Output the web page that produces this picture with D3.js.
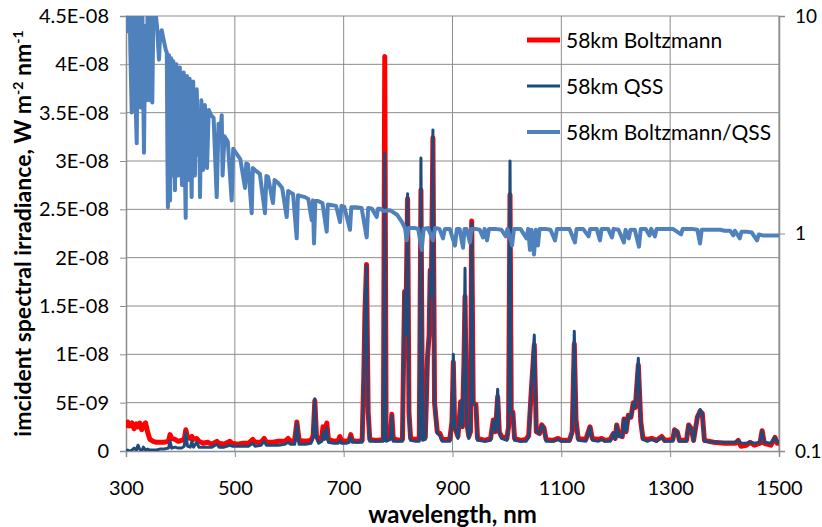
<!DOCTYPE html>
<html>
<head>
<meta charset="utf-8">
<script src="https://cdn.jsdelivr.net/npm/d3@7"></script>
<style>
  body { margin: 0; background: #fff; }
  text { font-family: Lato, "Open Sans", sans-serif; fill: #000; }
</style>
</head>
<body>
<div id="chart"></div>
<script>
// irradiance values are in units of 1e-9 W m-2 nm-1, pairs are [wavelength nm, value]
const boltzmannPts = [
  [300,2.4],[303,3.0],[307,2.6],[311,2.9],[315,2.3],[319,2.8],[322,2.5],[325,2.9],[329,2.2],[332,2.7],
  [336,2.9],[340,1.9],[344,1.2],[350,1.0],[356,0.9],[362,0.9],[370,0.9],[378,1.0],[381,1.7],[384,1.3],
  [390,1.2],[396,1.0],[402,1.1],[407,1.2],[410,2.2],[413,1.4],[418,1.3],[421,1.5],[424,1.2],[430,1.3],
  [434,1.0],[442,0.8],[450,0.9],[458,0.7],[467,1.0],[471,0.8],[480,0.7],[491,1.0],[495,0.8],[505,0.7],
  [515,0.8],[525,0.8],[533,1.2],[537,0.9],[548,0.9],[554,1.3],[558,0.9],[570,0.9],[580,1.0],[592,1.0],
  [598,1.3],[602,1.0],[610,1.1],[614,3.0],[618,1.1],[630,1.0],[640,1.1],[644,1.6],[647,5.2],[650,1.6],
  [654,1.1],[660,1.5],[662,2.5],[665,1.6],[669,2.9],[672,1.2],[682,1.0],[690,1.1],[693,1.5],[696,1.1],
  [705,1.0],[710,1.1],[713,1.7],[716,1.1],[725,1.0],[734,1.1],[737,7.7],[739,14.1],[742,19.3],[745,4.0],
  [748,1.2],[760,1.1],[773,1.2],[775.5,40.8],[778,1.2],[786,1.5],[788.5,3.8],[791,1.3],[800,1.1],[808,1.2],
  [810,9.0],[812,16.5],[814,12.0],[817.5,26.1],[820,4.0],[823,1.3],[832,1.2],[839,1.3],[842,27.0],[845,1.4],
  [850,1.4],[852,5.3],[854,9.6],[857,12.0],[859,18.7],[861,16.0],[864,32.4],[867,5.0],[872,2.0],[877,1.8],
  [881,1.2],[895,1.2],[899,3.0],[901.5,9.2],[904,2.5],[910,1.5],[915,5.1],[918,2.5],[921,9.0],[923,16.0],
  [926,3.0],[930,1.5],[933,2.0],[935.3,23.8],[938,5.0],[943,4.8],[946,1.3],[960,1.1],[970,1.3],[975,3.2],
  [979,2.0],[983,5.6],[986,2.0],[990,1.5],[1000,1.3],[1003,2.5],[1005.7,26.5],[1008,4.0],[1011,4.0],[1014,1.3],
  [1025,1.1],[1035,1.2],[1040,1.6],[1044,5.5],[1050.3,11.0],[1054,2.0],[1060,1.8],[1064,2.7],[1068,2.4],[1072,1.2],
  [1085,1.1],[1094,1.3],[1100,1.1],[1115,1.1],[1120,2.0],[1123.8,11.1],[1127,3.2],[1131,1.3],[1145,1.2],[1152.7,2.5],
  [1157,1.3],[1168,1.2],[1174,1.3],[1180,1.1],[1190,1.2],[1195.5,1.8],[1199,1.3],[1201.7,2.7],[1206,1.6],[1212,1.5],
  [1215.2,3.3],[1219,2.0],[1223,3.7],[1228,3.5],[1232.3,5.0],[1236,4.5],[1241.5,8.9],[1246,3.0],[1250,1.3],[1258,1.2],
  [1266,1.3],[1275,1.1],[1284.5,1.5],[1290,1.1],[1305,1.2],[1308,2.2],[1313,2.0],[1317,1.1],[1330,1.1],[1334,2.7],
  [1339,2.3],[1343,1.1],[1350,3.5],[1355,4.1],[1359,3.9],[1363,1.1],[1380,0.9],[1400,0.8],[1420,0.8],[1425,1.1],
  [1430,0.5],[1440,0.6],[1447,0.9],[1455,0.6],[1465,0.8],[1469,2.1],[1473,0.8],[1485,0.6],[1492.7,1.4],[1497,0.8],
  [1500,1.0]
];

const qssPts = [
  [300,0.0],[303,0.1],[307,0.0],[311,0.1],[315,0.3],[319,0.1],[322,0.6],[325,0.2],[329,0.0],[332,0.4],
  [336,0.1],[340,0.2],[344,0.1],[350,0.1],[356,0.1],[362,0.2],[370,0.2],[378,0.3],[381,1.0],[384,0.3],
  [390,0.4],[396,0.3],[402,0.3],[407,0.5],[410,1.9],[413,0.5],[418,0.4],[421,1.0],[424,0.4],[430,0.9],
  [434,0.4],[442,0.4],[450,0.4],[458,0.4],[467,0.7],[471,0.4],[480,0.4],[491,0.6],[495,0.5],[505,0.5],
  [515,0.5],[525,0.5],[533,0.8],[537,0.5],[548,0.6],[554,1.0],[558,0.6],[570,0.6],[580,0.6],[592,0.7],
  [598,0.9],[602,0.7],[610,0.7],[614,2.9],[618,0.7],[630,0.7],[640,0.8],[644,1.4],[647,5.4],[650,1.4],
  [654,0.8],[660,1.0],[662,2.0],[665,1.2],[669,2.4],[672,0.9],[682,0.8],[690,0.8],[693,1.1],[696,0.8],
  [705,0.8],[710,0.9],[713,1.5],[716,0.9],[725,0.9],[734,0.9],[737,7.7],[739,14.1],[742,19.2],[745,4.0],
  [748,1.0],[760,1.0],[773,1.0],[775.5,30.8],[778,1.0],[786,1.2],[788.5,3.7],[791,1.0],[800,1.0],[808,1.0],
  [810,9.0],[812,16.5],[814,12.0],[817.5,26.6],[820,4.0],[823,1.1],[832,1.0],[839,1.0],[842,30.3],[845,1.1],
  [850,1.2],[852,5.3],[854,9.6],[857,12.0],[859,18.7],[861,16.0],[864,33.2],[867,5.0],[872,1.8],[877,1.6],
  [881,1.0],[895,1.0],[899,3.0],[901.5,10.0],[904,2.5],[910,1.3],[915,5.1],[918,2.5],[921,9.0],[923,18.9],
  [926,3.0],[930,1.3],[933,2.0],[935.3,23.6],[938,5.0],[943,4.6],[946,1.1],[960,1.0],[970,1.1],[975,3.1],
  [979,2.0],[983,6.4],[986,2.0],[990,1.3],[1000,1.1],[1003,2.5],[1005.7,30.0],[1008,4.0],[1011,3.9],[1014,1.1],
  [1025,1.0],[1035,1.0],[1040,1.4],[1044,5.5],[1050.3,12.0],[1054,2.0],[1060,1.8],[1064,2.7],[1068,2.4],[1072,1.0],
  [1085,1.0],[1094,1.2],[1100,1.0],[1115,1.0],[1120,2.0],[1123.8,12.4],[1127,3.2],[1131,1.1],[1145,1.0],[1152.7,2.5],
  [1157,1.1],[1168,1.0],[1174,1.2],[1180,1.0],[1190,1.0],[1195.5,1.8],[1199,1.2],[1201.7,2.7],[1206,1.5],[1212,1.5],
  [1215.2,3.3],[1219,2.0],[1223,3.7],[1228,3.5],[1232.3,5.0],[1236,4.5],[1241.5,9.6],[1246,3.0],[1250,1.2],[1258,1.0],
  [1266,1.2],[1275,1.0],[1284.5,1.4],[1290,1.0],[1305,1.0],[1308,2.2],[1313,2.0],[1317,1.0],[1330,1.0],[1334,2.7],
  [1339,2.3],[1343,1.0],[1350,3.5],[1355,4.3],[1359,3.9],[1363,1.0],[1380,0.9],[1400,0.9],[1420,0.9],[1425,1.1],
  [1430,0.8],[1440,0.8],[1447,0.9],[1455,0.8],[1465,0.9],[1469,2.1],[1473,0.9],[1485,0.8],[1492.7,1.4],[1497,0.9],
  [1500,1.0]
];

// Boltzmann/QSS ratio (right axis, log)
const ratioPts = [
  [300,14],[303,8.5],[306,14],[308,6.9],[310.5,3.6],[313,14],[316.5,5.0],[319.7,2.6],[322,14],[325,6.0],
  [327,3.8],[329.5,14],[333,2.35],[335.5,9.0],[338,4.1],[340,14],[342,12],[344,4.1],[346,14],[348.3,4.0],
  [351,14],[353,11],[357,9.0],[360.6,6.3],[363,8.4],[365.6,8.6],[369,7.8],[373,7.0],[375,6.8],[376,2.5],[377,1.32],
  [378,4.0],[379,6.6],[380,3.0],[381,1.42],[382,4.5],[383,6.4],[384.5,1.85],[386,5.0],[387,6.2],[388.5,2.6],[390,1.58],
  [391.5,4.2],[392.5,6.0],[394,2.9],[395.6,1.85],[397.5,4.8],[399,5.8],[401,2.6],[402.9,1.67],[404.5,4.6],
  [406,5.5],[408,2.2],[409.7,1.18],[411,4.0],[412,5.3],[413,2.4],[413.9,1.76],[415.5,4.1],[417,5.15],[419,2.2],[420.7,1.47],
  [422,3.8],[423.5,5.0],[425,2.6],[426.8,1.85],[428.5,3.9],[430,4.6],[433,2.3],[434.5,3.6],
  [436,1.47],[438.5,4.1],[441.5,1.96],[445,3.9],[448.9,2.0],[452,3.7],[456.2,3.5],[461,3.4],[466.7,1.47],[470,3.2],
  [474,3.0],[475.9,3.5],[477.5,1.85],[481,2.8],[487,2.65],[494.2,1.42],[497,2.45],[502.1,2.35],[510,2.2],[518.7,1.62],
  [521,2.1],[524.2,2.08],[531,1.24],[533,2.0],[537,1.96],[546,1.88],[555.4,1.24],[558,1.84],[561,1.82],[570.1,1.38],
  [573,1.76],[579.3,1.71],[587,1.62],[595.3,1.19],[598,1.57],[601.4,1.55],[607,1.52],[613.7,0.95],[616,1.50],[620,1.49],
  [629,1.47],[635,1.44],[641.3,1.15],[643.5,1.42],[645.5,0.90],[648,1.41],[653,1.41],[661,1.38],[668.8,1.02],[671,1.36],
  [679,1.35],[686,1.34],[693.3,1.13],[696,1.34],[701,1.33],[711.6,1.04],[714,1.32],[723,1.32],[733,1.31],[742.3,0.96],
  [745,1.31],[752,1.30],[760.7,1.19],[763,1.30],[767,1.30],[774,1.27],[785,1.28],[798,1.22],[807,1.13],[812.7,1.06],
  [815.8,0.93],[819,1.06],[830,1.06],[837,1.05],[843.4,0.84],[847,1.05],[855,1.06],[864.2,0.93],[868,1.06],[876,1.05],
  [882.5,0.95],[886,1.05],[895,1.05],[904.6,0.88],[908,1.05],[913,1.05],[919.3,0.86],[922,1.05],[926,1.05],[932,0.91],
  [935,1.05],[942,1.05],[950,1.04],[956,0.96],[959,1.05],[963.4,0.93],[967,1.05],[978,1.05],[990,1.04],[998,0.97],
  [1001,1.05],[1009.4,0.88],[1013,1.05],[1025,1.05],[1036,0.95],[1039,1.05],[1042.4,0.84],[1045,1.04],[1049.8,0.80],[1053,1.04],
  [1057,0.88],[1060,1.05],[1070,1.05],[1080,1.04],[1088.4,0.93],[1092,1.05],[1105,1.05],[1115,1.05],[1125,0.91],[1128,1.05],
  [1140,1.05],[1150,0.97],[1153,1.05],[1165,1.05],[1171,0.93],[1174,1.05],[1186,1.05],[1193,0.96],[1196,1.05],[1205,1.04],
  [1215,0.91],[1218,1.04],[1224,0.95],[1227,1.04],[1235,1.04],[1242.7,0.87],[1246,1.05],[1255,1.05],[1262,0.98],[1265,1.05],
  [1272,0.97],[1275,1.05],[1290,1.05],[1305,1.05],[1320,0.99],[1323,1.05],[1340,1.05],[1350,1.04],[1354.8,0.90],[1358,1.04],
  [1364,1.04],[1380,1.04],[1392,1.04],[1400,1.03],[1410,1.03],[1416,0.98],[1419,1.03],[1428,0.95],[1431,1.02],[1440,1.02],
  [1450,1.01],[1459.6,0.93],[1463,0.99],[1470,0.98],[1485,0.98],[1500,0.98]
];

const xTicks = [300, 500, 700, 900, 1100, 1300, 1500];
const yTicks = [0, 5e-9, 1e-8, 1.5e-8, 2e-8, 2.5e-8, 3e-8, 3.5e-8, 4e-8, 4.5e-8];
const yTickLabels = ["0", "5E-09", "1E-08", "1.5E-08", "2E-08", "2.5E-08", "3E-08", "3.5E-08", "4E-08", "4.5E-08"];
const rightTicks = [0.1, 1, 10];
const seriesNames = ["58km Boltzmann", "58km QSS", "58km Boltzmann/QSS"];
const seriesColors = ["#ff0000", "#1f4a7c", "#4f81bd"];
const seriesWidths = [5, 3, 4];

const UNIT = 1e-9;

var margin = { top: 16, right: 43, bottom: 76, left: 126 },
    width = 822 - margin.left - margin.right,
    height = 527 - margin.top - margin.bottom;

var svg = d3.select("#chart")
    .append("svg")
    .attr("width", 822)
    .attr("height", 527)
    .append("g")
    .attr("transform", "translate(" + margin.left + "," + margin.top + ")");

const x = d3.scaleLinear().domain([300, 1500]).range([0, width]);
const y = d3.scaleLinear().domain([0, 4.5e-8]).range([height, 0]);
const yR = d3.scaleLog().domain([0.1, 10]).range([height, 0]);

const gridColor = "#8c8c8c";

// Grid
svg.append("g")
    .selectAll("line")
    .data(yTicks.slice(1))
    .join("line")
    .attr("x1", 0).attr("x2", width)
    .attr("y1", d => y(d)).attr("y2", d => y(d))
    .attr("stroke", gridColor).attr("stroke-width", 1);
svg.append("g")
    .selectAll("line")
    .data(xTicks.slice(1))
    .join("line")
    .attr("x1", d => x(d)).attr("x2", d => x(d))
    .attr("y1", 0).attr("y2", height)
    .attr("stroke", gridColor).attr("stroke-width", 1);

// Axes
const gx = svg.append("g")
    .attr("transform", "translate(0," + height + ")")
    .call(d3.axisBottom(x).tickValues(xTicks).tickFormat(d3.format("d")).tickSize(6).tickPadding(24));
const gy = svg.append("g")
    .call(d3.axisLeft(y).tickValues(yTicks).tickFormat((d, i) => yTickLabels[i]).tickSize(6).tickPadding(11));
const gr = svg.append("g")
    .attr("transform", "translate(" + width + ",0)")
    .call(d3.axisRight(yR).tickValues(rightTicks).tickFormat(d => String(d)).tickSize(6).tickPadding(10));

[gx, gy, gr].forEach(g => {
    g.selectAll("path.domain").attr("stroke", gridColor).attr("stroke-width", 1.5);
    g.selectAll(".tick line").attr("stroke", gridColor).attr("stroke-width", 1);
    g.selectAll("text").style("font-size", "20px").style("font-family", "Lato, 'Open Sans', sans-serif").attr("fill", "#000");
});
gr.selectAll("text").style("font-size", "19px");

// Lines
svg.append("clipPath").attr("id", "plotClip")
    .append("rect").attr("x", 0).attr("y", 0).attr("width", width).attr("height", height);

const plot = svg.append("g").attr("clip-path", "url(#plotClip)");

const specLine = d3.line()
    .x(d => x(d[0]))
    .y(d => y(d[1] * UNIT));

plot.append("path")
    .datum(boltzmannPts)
    .attr("fill", "none")
    .attr("stroke", seriesColors[0])
    .attr("stroke-width", seriesWidths[0])
    .attr("stroke-linejoin", "round")
    .attr("d", specLine);

plot.append("path")
    .datum(qssPts)
    .attr("fill", "none")
    .attr("stroke", seriesColors[1])
    .attr("stroke-width", seriesWidths[1])
    .attr("stroke-linejoin", "round")
    .attr("d", specLine);

plot.append("path")
    .datum(ratioPts)
    .attr("fill", "none")
    .attr("stroke", seriesColors[2])
    .attr("stroke-width", seriesWidths[2])
    .attr("stroke-linejoin", "round")
    .attr("d", d3.line()
        .x(d => x(d[0]))
        .y(d => yR(d[1])));

// Legend
const legend = svg.append("g")
    .attr("transform", "translate(" + (527 - margin.left) + "," + (40 - margin.top) + ")");
const rows = legend.selectAll("g")
    .data(seriesNames)
    .join("g")
    .attr("transform", (d, i) => "translate(0," + i * 46 + ")");
rows.append("line")
    .attr("x1", 0).attr("x2", 33)
    .attr("y1", 0).attr("y2", 0)
    .attr("stroke", (d, i) => seriesColors[i])
    .attr("stroke-width", (d, i) => seriesWidths[i]);
rows.append("text")
    .attr("x", 39)
    .attr("y", 1)
    .attr("dy", "0.35em")
    .style("font-size", "21px")
    .text(d => d);

// Axis titles
svg.append("text")
    .attr("x", width / 2)
    .attr("y", height + 72)
    .attr("text-anchor", "middle")
    .style("font-size", "24px")
    .style("font-weight", "bold")
    .text("wavelength, nm");

const yTitle = svg.append("text")
    .attr("transform", "translate(" + (31 - margin.left) + "," + (height / 2) + ") rotate(-90)")
    .attr("text-anchor", "middle")
    .style("font-size", "23px")
    .style("font-weight", "bold");
yTitle.append("tspan").text("imcident spectral irradiance, W m");
yTitle.append("tspan").attr("baseline-shift", "super").style("font-size", "14px").text("-2");
yTitle.append("tspan").text(" nm");
yTitle.append("tspan").attr("baseline-shift", "super").style("font-size", "14px").text("-1");
</script>
</body>
</html>
